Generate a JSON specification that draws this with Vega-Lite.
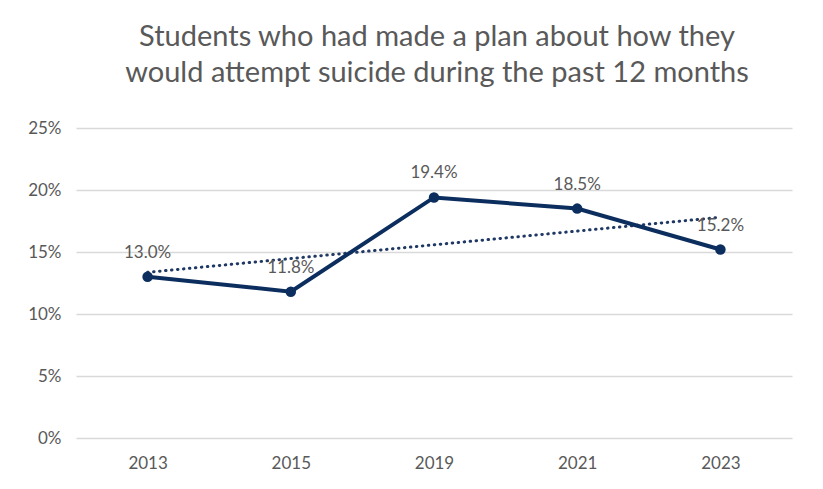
{
  "$schema": "https://vega.github.io/schema/vega-lite/v6.json",
  "width": 716,
  "height": 310,
  "autosize": {"type": "none"},
  "padding": {"left": 76, "top": 128, "right": 31, "bottom": 51},
  "background": "white",
  "config": {"view": {"stroke": null}, "font": "Lato"},
  "title": {
    "text": ["Students who had made a plan about how they", "would attempt suicide during the past 12 months"],
    "fontSize": 29,
    "font": "Lato",
    "fontWeight": "normal",
    "color": "#595959",
    "anchor": "middle",
    "lineHeight": 36,
    "offset": 31,
    "dx": 3
  },
  "datasets": {
    "main": [
      {"year": "2013", "pct": 0.130},
      {"year": "2015", "pct": 0.118},
      {"year": "2019", "pct": 0.194},
      {"year": "2021", "pct": 0.185},
      {"year": "2023", "pct": 0.152}
    ],
    "trend": [
      {"year": "2013", "trend": 0.1336},
      {"year": "2023", "trend": 0.178}
    ]
  },
  "encoding": {
    "x": {
      "field": "year",
      "type": "ordinal",
      "scale": {"type": "point", "padding": 0.5, "domain": ["2013", "2015", "2019", "2021", "2023"]},
      "axis": {"title": null, "labelAngle": 0, "ticks": false, "domain": false, "labelFontSize": 17, "labelColor": "#595959", "labelPadding": 17, "labelFont": "Lato"}
    }
  },
  "layer": [
    {
      "data": {"name": "trend"},
      "mark": {"type": "line", "color": "#1f3864", "strokeWidth": 3, "strokeDash": [0.5, 5.5], "strokeCap": "round"},
      "encoding": {
        "y": {
          "field": "trend",
          "type": "quantitative",
          "scale": {"domain": [0, 0.25], "nice": false},
          "axis": {"title": null, "format": "0%", "values": [0, 0.05, 0.1, 0.15, 0.2, 0.25], "labelOverlap": false, "ticks": false, "domain": false, "grid": true, "gridColor": "#d9d9d9", "gridWidth": 1.5, "labelFontSize": 17, "labelColor": "#595959", "labelPadding": 15, "labelFont": "Lato"}
        }
      }
    },
    {
      "data": {"name": "main"},
      "mark": {"type": "line", "color": "#0c2e5e", "strokeWidth": 4, "point": {"filled": true, "size": 110, "color": "#0c2e5e"}},
      "encoding": {
        "y": {"field": "pct", "type": "quantitative", "scale": {"domain": [0, 0.25], "nice": false}}
      }
    },
    {
      "data": {"name": "main"},
      "mark": {"type": "text", "dy": -24, "fontSize": 17, "color": "#595959", "font": "Lato"},
      "encoding": {
        "y": {"field": "pct", "type": "quantitative", "scale": {"domain": [0, 0.25], "nice": false}},
        "text": {"field": "pct", "type": "quantitative", "format": ".1%"}
      }
    }
  ]
}
